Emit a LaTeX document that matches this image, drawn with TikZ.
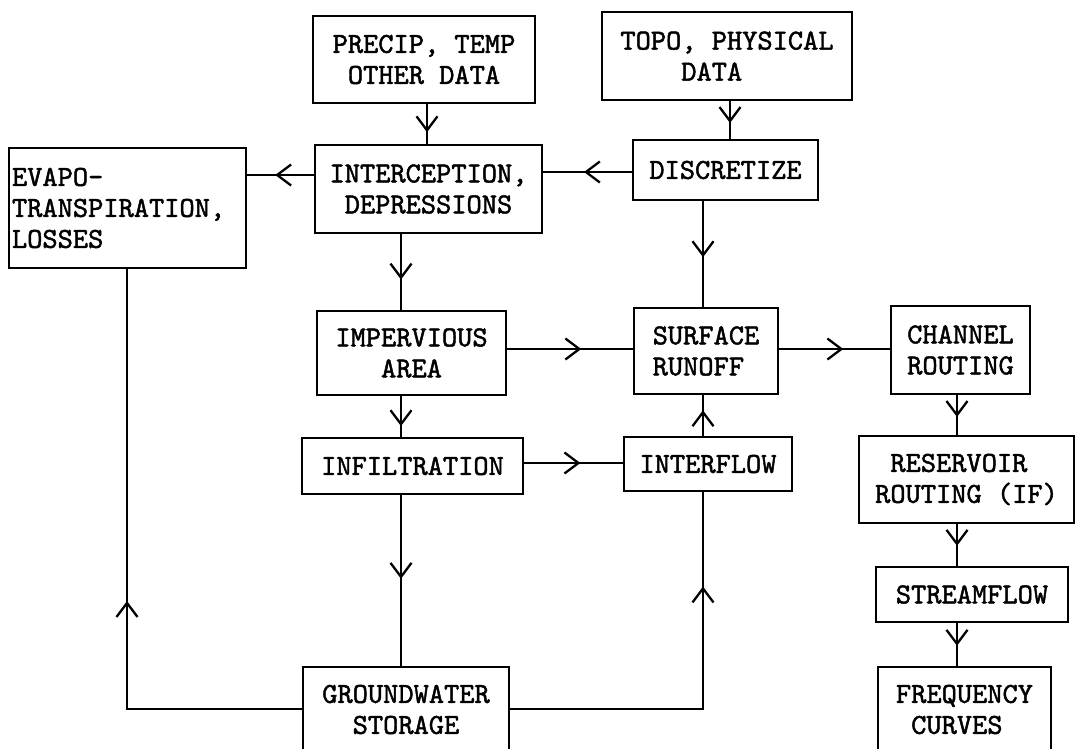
\documentclass[tikz,border=0pt]{standalone}
\usepackage{fontspec}
\newfontfamily\typer{lmmono10-regular.otf}[FakeBold=1.6]
\usetikzlibrary{arrows.meta,decorations.markings}

\begin{document}
\begin{tikzpicture}[x=1pt,y=-1pt,
  box/.style={draw, line width=2.8pt, inner sep=0pt, align=center,
    font=\typer\fontsize{29}{31}\selectfont},
  flow/.style={line width=2.3pt},
  tipat/.style={postaction={decorate},
    decoration={markings, mark=at position #1 with
      {\arrow{Straight Barb[length=14pt,width=21pt]}}}}]
\useasboundingbox (0,0) rectangle (1077,748);

% process boxes
\node[box, minimum width=222pt, minimum height=87pt] (precip) at (424,59.5)
  {PRECIP, TEMP\\OTHER DATA};
\node[box, minimum width=250pt, minimum height=88pt, align=left] (topo) at (727,56)
  {TOPO, PHYSICAL\\\hphantom{TOPO}DATA};
\node[box, minimum width=185pt, minimum height=60pt] (disc) at (725.5,170)
  {DISCRETIZE};
\node[box, minimum width=227pt, minimum height=88pt] (interc) at (428.5,189)
  {INTERCEPTION,\\DEPRESSIONS};
\node[box, minimum width=237pt, minimum height=120pt, text width=231pt, align=left]
  (evapo) at (127.5,208)
  {EVAPO-\\TRANSPIRATION,\\LOSSES};
\node[box, minimum width=189pt, minimum height=84pt] (imperv) at (411.5,353)
  {IMPERVIOUS\\AREA};
\node[box, minimum width=144pt, minimum height=86pt, align=left] (surf) at (706,351)
  {SURFACE\\RUNOFF};
\node[box, minimum width=139pt, minimum height=88pt] (chan) at (960.5,350)
  {CHANNEL\\ROUTING};
\node[box, minimum width=221pt, minimum height=56pt] (infil) at (412.5,466)
  {INFILTRATION};
\node[box, minimum width=168pt, minimum height=54pt] (inter) at (708,464)
  {INTERFLOW};
\node[box, minimum width=215pt, minimum height=87pt, align=left] (res) at (966.5,479.5)
  {\hphantom{R}RESERVOIR\\ROUTING (IF)};
\node[box, minimum width=192pt, minimum height=55pt] (stream) at (972,594.5)
  {STREAMFLOW};
\node[box, minimum width=206pt, minimum height=85pt] (gw) at (406,709.5)
  {GROUNDWATER\\STORAGE};
\node[box, minimum width=173pt, minimum height=85pt, align=left] (freq) at (964.5,709.5)
  {FREQUENCY\\\hphantom{F}CURVES};

% connector lanes
\coordinate (lA) at (427,0);
\coordinate (lB) at (730,0);
\coordinate (lC) at (0,172);
\coordinate (lD) at (0,175);
\coordinate (lE) at (401,0);
\coordinate (lF) at (703,0);
\coordinate (lG) at (0,349);
\coordinate (lH) at (0,463);
\coordinate (lI) at (957,0);
\coordinate (lJ) at (127,0);
\coordinate (lK) at (0,709);

% flows
\draw[flow, tipat=0.71] (precip.south -| lA) -- (interc.north -| lA);
\draw[flow, tipat=0.58] (topo.south -| lB) -- (disc.north -| lB);
\draw[flow, tipat=0.54] (disc.west |- lC) -- (interc.east |- lC);
\draw[flow, tipat=0.58] (interc.west |- lD) -- (evapo.east |- lD);
\draw[flow, tipat=0.60] (interc.south -| lE) -- (imperv.north -| lE);
\draw[flow, tipat=0.53] (disc.south -| lF) -- (surf.north -| lF);
\draw[flow, tipat=0.59] (imperv.east |- lG) -- (surf.west |- lG);
\draw[flow, tipat=0.58] (surf.east |- lG) -- (chan.west |- lG);
\draw[flow, tipat=0.74] (imperv.south -| lE) -- (infil.north -| lE);
\draw[flow, tipat=0.57] (infil.east |- lH) -- (inter.west |- lH);
\draw[flow, tipat=0.63] (inter.north -| lF) -- (surf.south -| lF);
\draw[flow, tipat=0.55] (chan.south -| lI) -- (res.north -| lI);
\draw[flow, tipat=0.52] (res.south -| lI) -- (stream.north -| lI);
\draw[flow, tipat=0.53] (stream.south -| lI) -- (freq.north -| lI);
\draw[flow, tipat=0.49] (infil.south -| lE) -- (gw.north -| lE);
\draw[flow, tipat=0.46] (gw.west |- lK) -| (evapo.south -| lJ);
\draw[flow, tipat=0.77] (gw.east |- lK) -| (inter.south -| lF);
\end{tikzpicture}
\end{document}
